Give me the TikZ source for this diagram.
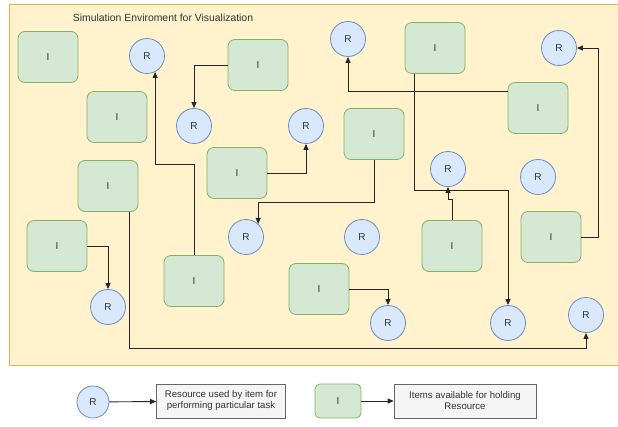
\documentclass[tikz,border=0pt]{standalone}
\usepackage{fontspec}
\setmainfont{Liberation Sans}
\usepackage{tikz}
\usetikzlibrary{arrows,arrows.meta,shapes}
\definecolor{envfill}{HTML}{FFF2CC}
\definecolor{envline}{HTML}{D6B656}
\definecolor{itemfill}{HTML}{D5E8D4}
\definecolor{itemline}{HTML}{82B366}
\definecolor{resfill}{HTML}{DAE8FC}
\definecolor{resline}{HTML}{6C8EBF}
\definecolor{keyfill}{HTML}{F5F5F5}
\definecolor{keyline}{HTML}{666666}
\definecolor{txt}{HTML}{333333}
\tikzstyle{item}=[rectangle,rounded corners=7pt,draw=itemline,fill=itemfill,line width=0.8pt,minimum width=60pt,minimum height=51pt,inner sep=0pt,text=txt,font=\fontsize{10}{12}\selectfont]
\tikzstyle{resource}=[circle,draw=resline,fill=resfill,line width=0.8pt,minimum size=35pt,inner sep=0pt,text=txt,font=\fontsize{10}{12}\selectfont]
\tikzstyle{keybox}=[rectangle,draw=keyline,fill=keyfill,line width=0.6pt,minimum height=34pt,inner sep=2pt,align=center,text=txt,font=\fontsize{9.6}{11}\selectfont]
\tikzstyle{link} = [draw,line width=0.9pt,black!85,-{Triangle[length=6pt,width=5pt]}]

\begin{document}
\begin{tikzpicture}[x=1pt,y=-1pt]
    \useasboundingbox (0,0) rectangle (618,427);
    % The simulation area
    \draw[envline,fill=envfill,line width=0.8pt] (9,4) rectangle (618,365);
    \node[text=txt,font=\fontsize{10.4}{12}\selectfont] (title) at (163,18) {Simulation Enviroment for Visualization};
    % First we draw the items
    \foreach \pos/\name in {{(48,57)/i1}, {(258,65)/i2}, {(117,117)/i3}, {(237,173)/i4},
        {(108,186)/i5}, {(435,48)/i6}, {(538,108)/i7}, {(374,134)/i8}, {(57,246)/i9},
        {(194,281)/i10}, {(452,246)/i11}, {(551,237)/i12}, {(319,289)/i13}}
        \node[item] (\name) at \pos {I};
    % Then the resources
    \foreach \pos/\name in {{(147,56)/r1}, {(194,126)/r2}, {(306,126)/r3}, {(348,39)/r4},
        {(559,48)/r5}, {(448,169)/r6}, {(538,177)/r7}, {(108,307)/r8}, {(246,237)/r9},
        {(362,237)/r10}, {(388,323)/r11}, {(508,323)/r12}, {(586,315)/r13}}
        \node[resource] (\name) at \pos {R};
    % Connect items with resources
    \path[link] (i2.west) -| (r2.north);
    \path[link] (i10.north) -- ++(0,-91) -| (r1.-63);
    \path[link] (i4.east) -| (r3.south);
    \path[link] (i8.south) -- ++(0,43) -| (r9.47);
    \path[link] (i7.west) ++(0,-17) -| (r4.south);
    \path[link] (i6.south) ++(-21,0) -- ++(0,117) -| (r12.north);
    \path[link] (i11.north) -- ++(0,-21) -| (r6.south);
    \path[link] (i12.east) -- ++(17,0) |- (r5.east);
    \path[link] (i9.east) -| (r8.north);
    \path[link] (i5.south) ++(21,0) -- ++(0,137) -| (r13.south);
    \path[link] (i13.east) -| (r11.north);
    % Legend
    \node[resource,minimum size=32pt] (rkey) at (93,402) {R};
    \node[keybox,minimum width=129pt] (rtext) at (221,401) {Resource used by item for\\performing particular task};
    \node[item,minimum width=46pt,minimum height=34pt,rounded corners=5pt] (ikey) at (338,401) {I};
    \node[keybox,minimum width=142pt] (itext) at (465,401) {Items available for holding\\Resource};
    \path[link] (rkey) -- (rtext);
    \path[link] (ikey) -- (itext);
\end{tikzpicture}
\end{document}
